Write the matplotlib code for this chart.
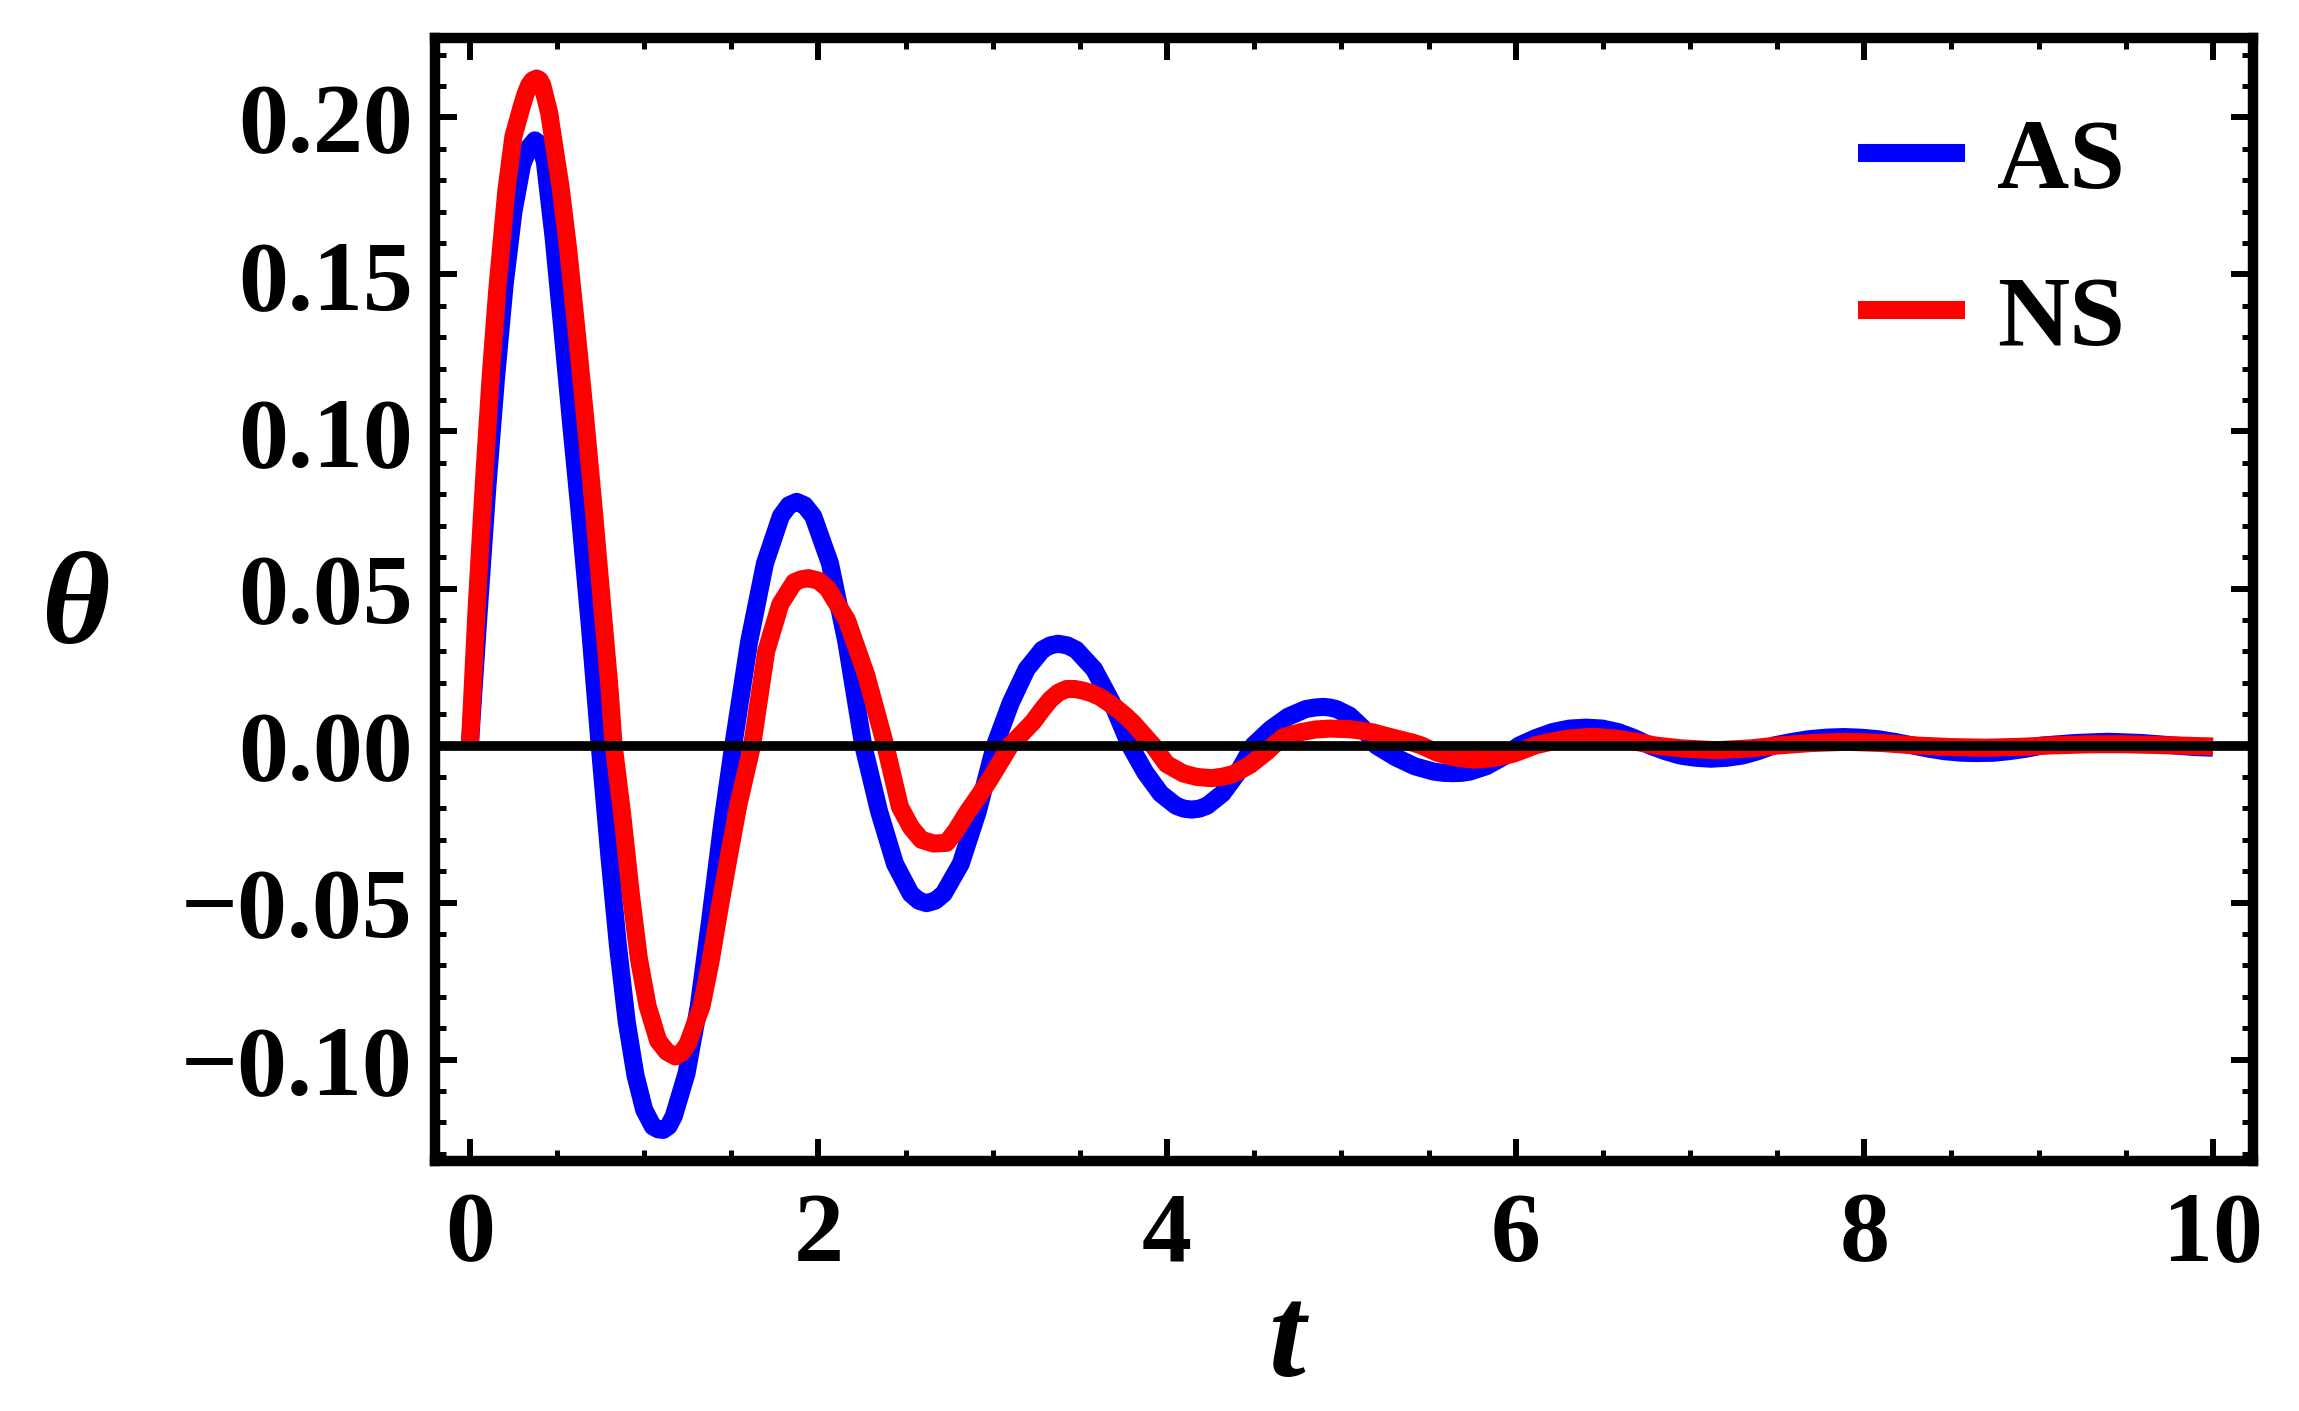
import matplotlib
matplotlib.use("Agg")
import matplotlib.pyplot as plt
from matplotlib.ticker import MultipleLocator

# ---- data ----
t_as = [0.00, 0.05, 0.10, 0.15, 0.20, 0.25, 0.30, 0.34, 0.373, 0.40,
        0.43, 0.48, 0.535, 0.58, 0.627, 0.69, 0.745,
        0.80, 0.85, 0.90, 0.95, 1.00, 1.05, 1.08, 1.109, 1.14,
        1.17, 1.243, 1.313, 1.38, 1.45, 1.511,
        1.602, 1.693, 1.784, 1.83, 1.875, 1.92,
        1.97, 2.066, 2.16, 2.257,
        2.348, 2.439, 2.529, 2.575, 2.62, 2.67,
        2.718, 2.816, 2.914, 3.012,
        3.103, 3.194, 3.284, 3.33, 3.375, 3.427,
        3.478, 3.581, 3.684, 3.787,
        3.875, 3.963, 4.052, 4.096, 4.14, 4.185,
        4.229, 4.317, 4.406, 4.494,
        4.594, 4.695, 4.795, 4.846, 4.896, 4.934,
        4.972, 5.048, 5.124, 5.2,
        5.31, 5.42, 5.53, 5.586, 5.642, 5.69,
        5.737, 5.831, 5.926, 6.02,
        6.116, 6.212, 6.309, 6.405,
        6.496, 6.587, 6.679, 6.77,
        6.858, 6.945, 7.033, 7.12,
        7.21, 7.30, 7.39, 7.48,
        7.58, 7.68, 7.78, 7.88,
        7.98, 8.08, 8.18, 8.28,
        8.37, 8.46, 8.56, 8.65,
        8.74, 8.83, 8.93, 9.02,
        9.21, 9.40, 9.59, 9.78,
        9.90, 10.0]
theta_as = [0.000, 0.042, 0.082, 0.117, 0.147, 0.170, 0.185, 0.1905, 0.1927, 0.1915,
            0.186, 0.162, 0.130, 0.103, 0.076, 0.037, 0.000,
            -0.035, -0.064, -0.088, -0.105, -0.116, -0.1213, -0.1222, -0.1224, -0.1212,
            -0.118, -0.1044, -0.0832, -0.055, -0.024, 0.000,
            0.033, 0.058, 0.073, 0.0765, 0.0776, 0.0765,
            0.073, 0.058, 0.033, 0.000,
            -0.021, -0.0377, -0.0472, -0.0494, -0.0502, -0.0494,
            -0.0472, -0.0377, -0.021, 0.000,
            0.0136, 0.0243, 0.0305, 0.0319, 0.0324, 0.0319,
            0.0305, 0.0243, 0.0136, 0.000,
            -0.0086, -0.0153, -0.0192, -0.0201, -0.0204, -0.0201,
            -0.0192, -0.0153, -0.0086, 0.000,
            0.0052, 0.0092, 0.0116, 0.0121, 0.0123, 0.0121,
            0.0116, 0.0095, 0.0055, 0.000,
            -0.0037, -0.0066, -0.0083, -0.0087, -0.0088, -0.0087,
            -0.0083, -0.0066, -0.0037, 0.000,
            0.0024, 0.0043, 0.0054, 0.0057,
            0.0054, 0.0043, 0.0024, 0.000,
            -0.0018, -0.0032, -0.0039, -0.0042,
            -0.0039, -0.0032, -0.0018, 0.000,
            0.0011, 0.0020, 0.0025, 0.0027,
            0.0025, 0.0020, 0.0011, 0.000,
            -0.0010, -0.0018, -0.0023, -0.0024,
            -0.0023, -0.0018, -0.0010, 0.000,
            0.0008, 0.0012, 0.0008, 0.000,
            -0.0005, -0.0007]

t_ns = [0.00, 0.04, 0.084, 0.12, 0.157, 0.21, 0.25, 0.297, 0.32, 0.34, 0.36, 0.383, 0.40, 0.415,
        0.43, 0.455, 0.478, 0.52, 0.564, 0.616, 0.664, 0.711, 0.76, 0.80, 0.825,
        0.874, 0.925, 0.97, 1.02, 1.08, 1.13, 1.179, 1.215,
        1.25, 1.329, 1.38, 1.435, 1.49, 1.54, 1.619,
        1.70, 1.781, 1.861, 1.90, 1.942, 2.00,
        2.053, 2.163, 2.274, 2.384,
        2.467, 2.53, 2.59, 2.66, 2.735,
        2.79, 2.85, 2.92, 2.98, 3.04, 3.10,
        3.17, 3.232, 3.28, 3.328, 3.375, 3.423, 3.47, 3.518, 3.565, 3.614,
        3.66, 3.71, 3.76, 3.806, 3.86, 3.92,
        3.997, 4.093, 4.17, 4.255, 4.32, 4.379, 4.475, 4.571, 4.609,
        4.666, 4.762, 4.85, 4.934, 5.05, 5.18, 5.26, 5.33, 5.41, 5.46,
        5.55, 5.65, 5.76, 5.87, 5.98, 6.05, 6.11,
        6.20, 6.30, 6.44, 6.58, 6.70, 6.80,
        6.95, 7.15, 7.35, 7.50,
        7.70, 7.90, 8.10, 8.30,
        8.50, 8.70, 8.90, 9.05,
        9.30, 9.50, 9.80, 10.0]
theta_ns = [0.000, 0.045, 0.087, 0.118, 0.145, 0.177, 0.194, 0.2034, 0.2075, 0.2103, 0.2118, 0.2124, 0.2119, 0.2104,
            0.207, 0.2015, 0.193, 0.178, 0.158, 0.130, 0.103, 0.075, 0.044, 0.019, 0.000,
            -0.022, -0.048, -0.068, -0.083, -0.094, -0.0975, -0.099, -0.0978,
            -0.095, -0.083, -0.069, -0.051, -0.034, -0.019, 0.000,
            0.030, 0.045, 0.052, 0.0529, 0.0533, 0.0525,
            0.050, 0.040, 0.0224, 0.000,
            -0.0195, -0.026, -0.030, -0.0312, -0.031,
            -0.027, -0.0216, -0.016, -0.011, -0.0055, 0.000,
            0.0040, 0.0076, 0.0112, 0.0145, 0.0168, 0.0180, 0.0180, 0.0175, 0.0167, 0.0155,
            0.0138, 0.0118, 0.0095, 0.0071, 0.0037, 0.000,
            -0.0059, -0.0089, -0.0100, -0.0104, -0.0099, -0.0091, -0.0062, -0.0020, 0.000,
            0.0026, 0.0042, 0.0051, 0.0054, 0.0052, 0.0042, 0.0030, 0.0020, 0.0009, 0.000,
            -0.0023, -0.0038, -0.0045, -0.0040, -0.0027, -0.0013, 0.000,
            0.0012, 0.0022, 0.0028, 0.0022, 0.0011, 0.000,
            -0.0009, -0.0015, -0.0009, 0.000,
            0.0008, 0.0012, 0.0008, 0.000,
            -0.0005, -0.0007, -0.0004, 0.000,
            0.0004, 0.0004, 0.000, -0.0003]

series_labels = ["AS", "NS"]
x_ticks = [0, 2, 4, 6, 8, 10]
x_tick_labels = ["0", "2", "4", "6", "8", "10"]
y_ticks = [-0.10, -0.05, 0.00, 0.05, 0.10, 0.15, 0.20]
y_tick_labels = ["\u22120.10", "\u22120.05", "0.00", "0.05", "0.10", "0.15", "0.20"]
x_label = "t"
y_label = "\u03b8"

# ---- styling ----
plt.rcParams["font.family"] = ["Liberation Serif", "DejaVu Serif"]
W, H = 2299, 1411
fig = plt.figure(figsize=(W / 100, H / 100), dpi=100)
left, right, top, bottom = 435, 2253, 38, 1161
ax = fig.add_axes([left / W, 1 - bottom / H, (right - left) / W, (bottom - top) / H])

ax.plot(t_as, theta_as, color="#0000ff", lw=13, solid_joinstyle="round",
        solid_capstyle="butt", label=series_labels[0], zorder=2)
ax.plot(t_ns, theta_ns, color="#ff0000", lw=13, solid_joinstyle="round",
        solid_capstyle="butt", label=series_labels[1], zorder=3)
ax.axhline(0, color="black", lw=7, zorder=4)

ax.set_xlim(-0.2, 10.23)
ax.set_ylim(-0.1323, 0.2253)

ax.set_xticks(x_ticks, labels=x_tick_labels)
ax.set_yticks(y_ticks, labels=y_tick_labels)
ax.xaxis.set_minor_locator(MultipleLocator(0.5))
ax.yaxis.set_minor_locator(MultipleLocator(0.01))

for sp in ax.spines.values():
    sp.set_linewidth(7.5)
    sp.set_zorder(5)

ax.tick_params(which="both", direction="in", top=True, right=True, colors="black")
ax.tick_params(which="major", length=16, width=4.3)
ax.tick_params(which="minor", length=8, width=3.6)
ax.tick_params(axis="y", which="major", pad=16)
ax.tick_params(axis="x", which="major", pad=22)
for lab in ax.get_xticklabels() + ax.get_yticklabels():
    lab.set_fontsize(72)
    lab.set_fontweight("bold")

ax.set_ylabel(y_label, rotation=0, fontsize=95, fontstyle="italic",
              fontweight="bold", va="center", ha="center")
ax.yaxis.set_label_coords(-0.198, 0.489)
ax.set_xlabel(x_label, fontsize=95, fontstyle="italic", fontweight="bold",
              va="center", ha="center")
ax.xaxis.set_label_coords(0.469, -0.163)

ax.legend(loc="upper left", bbox_to_anchor=(0.7827, 0.929), frameon=False,
          prop=dict(family="Liberation Serif", weight="bold", size=72),
          handlelength=1.07, handletextpad=0.32, labelspacing=0.66,
          borderpad=0, borderaxespad=0)

fig.savefig("out.png", dpi=100)
